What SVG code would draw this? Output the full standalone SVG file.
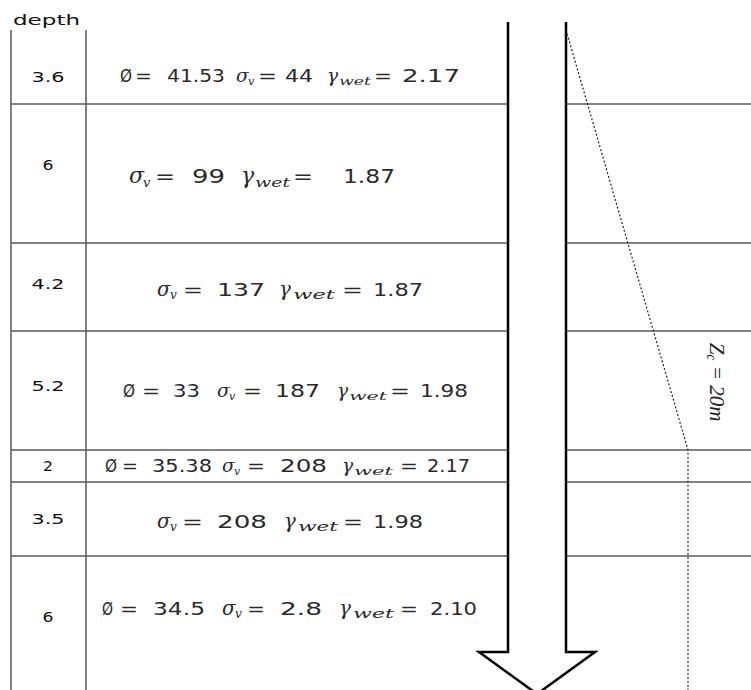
<svg xmlns="http://www.w3.org/2000/svg" width="751" height="690" viewBox="0 0 751 690">
<style>
.grid{stroke:#5a5a5a;stroke-width:1.5;fill:none}
.arrow{stroke:#000;stroke-width:2.5;fill:none;stroke-linejoin:miter}
.dot{stroke:#222;stroke-width:1.2;stroke-dasharray:2 2;fill:none}
.d{font-family:"DejaVu Sans",Verdana,sans-serif;font-size:14px;fill:#111}
.f{font-family:"DejaVu Sans",Verdana,sans-serif;fill:#2a2a2a}
.g{font-family:"DejaVu Serif",serif;font-style:italic}
.G{font-family:"DejaVu Serif",serif;font-style:italic;font-size:1.1em}
.zc{font-family:"Liberation Serif",serif;font-style:italic;font-size:21px;fill:#222}
</style>
<rect width="751" height="690" fill="#fff"/>
<g id="grid" class="grid">
<path d="M11,30V690M86,30V690"/>
<path d="M11,104H508M566,104H751M11,243H508M566,243H751M11,331H508M566,331H751M11,450H508M566,450H751M11,482H508M566,482H751M11,556H508M566,556H751"/>
</g>
<text class="d" x="13" y="25" font-size="15" textLength="67" lengthAdjust="spacingAndGlyphs">depth</text>
<g id="layer1">
<text class="d" x="48" y="82" text-anchor="middle" textLength="33" lengthAdjust="spacingAndGlyphs">3.6</text>
<text class="f" font-size="17"><tspan x="120" y="82" textLength="12" lengthAdjust="spacingAndGlyphs">Ø</tspan><tspan x="135" y="82" textLength="17" lengthAdjust="spacingAndGlyphs">=</tspan><tspan x="167" y="82" textLength="58" lengthAdjust="spacingAndGlyphs">41.53</tspan><tspan class="G" x="236" y="82">σ</tspan><tspan class="g" x="248" y="85" font-size="11">v</tspan><tspan x="258" y="82" textLength="19" lengthAdjust="spacingAndGlyphs">=</tspan><tspan x="285" y="82" textLength="28" lengthAdjust="spacingAndGlyphs">44</tspan><tspan class="G" x="327" y="82">γ</tspan><tspan class="g" x="339" y="85" font-size="11" textLength="32" lengthAdjust="spacingAndGlyphs">wet</tspan><tspan x="374" y="82" textLength="18" lengthAdjust="spacingAndGlyphs">=</tspan><tspan x="402" y="82" textLength="58" lengthAdjust="spacingAndGlyphs">2.17</tspan></text>
</g>
<g id="layer2">
<text class="d" x="48" y="170" text-anchor="middle" textLength="11" lengthAdjust="spacingAndGlyphs">6</text>
<text class="f" font-size="20"><tspan class="G" x="129" y="183">σ</tspan><tspan class="g" x="143" y="187" font-size="13">v</tspan><tspan x="155" y="183" textLength="20" lengthAdjust="spacingAndGlyphs">=</tspan><tspan x="192" y="183" textLength="33" lengthAdjust="spacingAndGlyphs">99</tspan><tspan class="G" x="241" y="183">γ</tspan><tspan class="g" x="255" y="187" font-size="13" textLength="35" lengthAdjust="spacingAndGlyphs">wet</tspan><tspan x="293" y="183" textLength="20" lengthAdjust="spacingAndGlyphs">=</tspan><tspan x="343" y="183" textLength="52" lengthAdjust="spacingAndGlyphs">1.87</tspan></text>
</g>
<g id="layer3">
<text class="d" x="48" y="289" text-anchor="middle" textLength="33" lengthAdjust="spacingAndGlyphs">4.2</text>
<text class="f" font-size="18"><tspan class="G" x="157" y="296">σ</tspan><tspan class="g" x="170" y="299" font-size="12">v</tspan><tspan x="183" y="296" textLength="20" lengthAdjust="spacingAndGlyphs">=</tspan><tspan x="217" y="296" textLength="48" lengthAdjust="spacingAndGlyphs">137</tspan><tspan class="G" x="279" y="296">γ</tspan><tspan class="g" x="293" y="299" font-size="12" textLength="42" lengthAdjust="spacingAndGlyphs">wet</tspan><tspan x="342" y="296" textLength="21" lengthAdjust="spacingAndGlyphs">=</tspan><tspan x="373" y="296" textLength="50" lengthAdjust="spacingAndGlyphs">1.87</tspan></text>
</g>
<g id="layer4">
<text class="d" x="48" y="391" text-anchor="middle" textLength="33" lengthAdjust="spacingAndGlyphs">5.2</text>
<text class="f" font-size="17"><tspan x="123" y="397" textLength="12" lengthAdjust="spacingAndGlyphs">Ø</tspan><tspan x="142" y="397" textLength="18" lengthAdjust="spacingAndGlyphs">=</tspan><tspan x="173" y="397" textLength="27" lengthAdjust="spacingAndGlyphs">33</tspan><tspan class="G" x="217" y="397">σ</tspan><tspan class="g" x="229" y="400" font-size="11">v</tspan><tspan x="243" y="397" textLength="19" lengthAdjust="spacingAndGlyphs">=</tspan><tspan x="275" y="397" textLength="45" lengthAdjust="spacingAndGlyphs">187</tspan><tspan class="G" x="337" y="397">γ</tspan><tspan class="g" x="349" y="400" font-size="11" textLength="38" lengthAdjust="spacingAndGlyphs">wet</tspan><tspan x="390" y="397" textLength="20" lengthAdjust="spacingAndGlyphs">=</tspan><tspan x="420" y="397" textLength="48" lengthAdjust="spacingAndGlyphs">1.98</tspan></text>
</g>
<g id="layer5">
<text class="d" x="48" y="471" text-anchor="middle" textLength="10" lengthAdjust="spacingAndGlyphs">2</text>
<text class="f" font-size="17"><tspan x="105" y="472" textLength="12" lengthAdjust="spacingAndGlyphs">Ø</tspan><tspan x="122" y="472" textLength="16" lengthAdjust="spacingAndGlyphs">=</tspan><tspan x="152" y="472" textLength="60" lengthAdjust="spacingAndGlyphs">35.38</tspan><tspan class="G" x="222" y="472">σ</tspan><tspan class="g" x="234" y="475" font-size="11">v</tspan><tspan x="247" y="472" textLength="18" lengthAdjust="spacingAndGlyphs">=</tspan><tspan x="280" y="472" textLength="47" lengthAdjust="spacingAndGlyphs">208</tspan><tspan class="G" x="342" y="472">γ</tspan><tspan class="g" x="354" y="475" font-size="11" textLength="39" lengthAdjust="spacingAndGlyphs">wet</tspan><tspan x="400" y="472" textLength="18" lengthAdjust="spacingAndGlyphs">=</tspan><tspan x="427" y="472" textLength="43" lengthAdjust="spacingAndGlyphs">2.17</tspan></text>
</g>
<g id="layer6">
<text class="d" x="48" y="524" text-anchor="middle" textLength="33" lengthAdjust="spacingAndGlyphs">3.5</text>
<text class="f" font-size="18"><tspan class="G" x="157" y="528">σ</tspan><tspan class="g" x="170" y="531" font-size="12">v</tspan><tspan x="182" y="528" textLength="21" lengthAdjust="spacingAndGlyphs">=</tspan><tspan x="217" y="528" textLength="50" lengthAdjust="spacingAndGlyphs">208</tspan><tspan class="G" x="284" y="528">γ</tspan><tspan class="g" x="298" y="531" font-size="12" textLength="40" lengthAdjust="spacingAndGlyphs">wet</tspan><tspan x="343" y="528" textLength="20" lengthAdjust="spacingAndGlyphs">=</tspan><tspan x="373" y="528" textLength="50" lengthAdjust="spacingAndGlyphs">1.98</tspan></text>
</g>
<g id="layer7">
<text class="d" x="48" y="622" text-anchor="middle" textLength="11" lengthAdjust="spacingAndGlyphs">6</text>
<text class="f" font-size="18"><tspan x="102" y="615" textLength="11" lengthAdjust="spacingAndGlyphs">Ø</tspan><tspan x="120" y="615" textLength="18" lengthAdjust="spacingAndGlyphs">=</tspan><tspan x="153" y="615" textLength="52" lengthAdjust="spacingAndGlyphs">34.5</tspan><tspan class="G" x="222" y="615">σ</tspan><tspan class="g" x="235" y="618" font-size="12">v</tspan><tspan x="247" y="615" textLength="18" lengthAdjust="spacingAndGlyphs">=</tspan><tspan x="280" y="615" textLength="42" lengthAdjust="spacingAndGlyphs">2.8</tspan><tspan class="G" x="339" y="615">γ</tspan><tspan class="g" x="353" y="618" font-size="12" textLength="41" lengthAdjust="spacingAndGlyphs">wet</tspan><tspan x="400" y="615" textLength="18" lengthAdjust="spacingAndGlyphs">=</tspan><tspan x="430" y="615" textLength="47" lengthAdjust="spacingAndGlyphs">2.10</tspan></text>
</g>
<g id="connectors">
<path class="arrow" d="M508,22V652H479L537,694L595,652H566V22"/>
<path class="dot" d="M566,30L688,450V690"/>
</g>
<g id="zc-label">
<text class="zc" transform="translate(710,382) rotate(90)" text-anchor="middle">Z<tspan font-size="14" dy="3">c</tspan><tspan dy="-3"> = 20</tspan>m</text>
</g>
</svg>
